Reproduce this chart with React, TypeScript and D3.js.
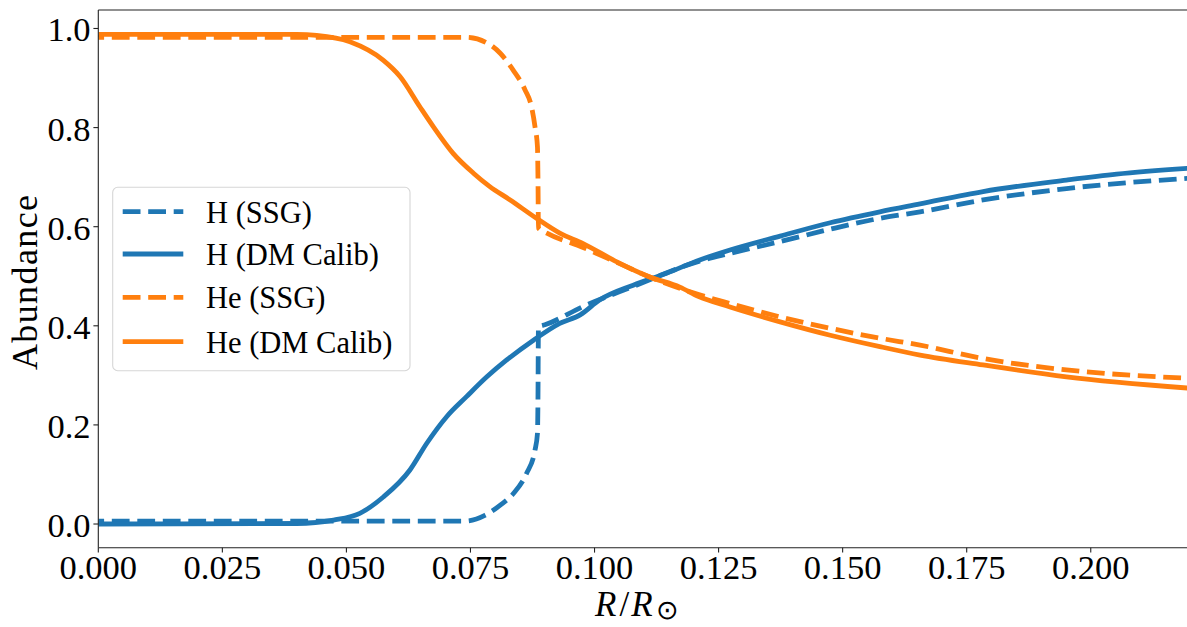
import React from "react";
import * as d3 from "d3";

// ---- data ----
const hSsgR = [0, 0.074, 0.078, 0.081, 0.0837, 0.0863, 0.088, 0.0885, 0.0886, 0.0887, 0.09, 0.0977, 0.1077, 0.121, 0.1273, 0.1374, 0.1475, 0.1575, 0.1656, 0.1783, 0.1951, 0.22];
const hSsgV = [0.006, 0.006, 0.018, 0.038, 0.062, 0.102, 0.149, 0.183, 0.25, 0.398, 0.402, 0.439, 0.479, 0.53, 0.546, 0.57, 0.595, 0.617, 0.63, 0.654, 0.677, 0.698];

const hDmR = [0, 0.04, 0.0474, 0.0527, 0.0575, 0.0628, 0.0662, 0.0702, 0.0742, 0.0783, 0.0823, 0.0877, 0.093, 0.0971, 0.101, 0.1078, 0.1145, 0.1212, 0.1273, 0.1374, 0.1475, 0.1575, 0.1656, 0.1783, 0.1951, 0.2052, 0.22];
const hDmV = [0, 0.001, 0.008, 0.0216, 0.055, 0.109, 0.163, 0.2166, 0.257, 0.297, 0.331, 0.371, 0.405, 0.422, 0.452, 0.482, 0.506, 0.533, 0.553, 0.581, 0.608, 0.63, 0.646, 0.671, 0.694, 0.706, 0.718];

const heSsgR = [0, 0.0742, 0.0783, 0.081, 0.0836, 0.086, 0.0873, 0.088, 0.0885, 0.0886, 0.0887, 0.0904, 0.0977, 0.1045, 0.111, 0.121, 0.1273, 0.1374, 0.1475, 0.1575, 0.1656, 0.1783, 0.1951, 0.22];
const heSsgV = [0.982, 0.982, 0.971, 0.95, 0.916, 0.876, 0.842, 0.802, 0.761, 0.7, 0.597, 0.587, 0.558, 0.528, 0.499, 0.463, 0.445, 0.418, 0.395, 0.375, 0.361, 0.334, 0.311, 0.294];

const heDmR = [0, 0.04, 0.044, 0.0507, 0.0574, 0.0608, 0.0648, 0.0675, 0.0715, 0.0756, 0.0789, 0.083, 0.0883, 0.093, 0.0977, 0.1045, 0.111, 0.1172, 0.121, 0.1273, 0.1374, 0.1475, 0.1575, 0.1656, 0.1783, 0.1951, 0.22];
const heDmV = [0.988, 0.988, 0.986, 0.973, 0.936, 0.903, 0.842, 0.802, 0.748, 0.708, 0.681, 0.654, 0.617, 0.587, 0.566, 0.529, 0.499, 0.478, 0.459, 0.438, 0.408, 0.381, 0.358, 0.341, 0.321, 0.297, 0.274];

const xTicks = [0, 0.025, 0.05, 0.075, 0.1, 0.125, 0.15, 0.175, 0.2];
const yTicks = [0, 0.2, 0.4, 0.6, 0.8, 1.0];

const seriesNames = ["H (SSG)", "H (DM Calib)", "He (SSG)", "He (DM Calib)"];
const seriesColors = ["#1f77b4", "#1f77b4", "#ff7f0e", "#ff7f0e"];
const seriesDashed = [true, false, true, false];
const seriesR = [hSsgR, hDmR, heSsgR, heDmR];
const seriesV = [hSsgV, hDmV, heSsgV, heDmV];

export default function App() {
  const W = 1187, H = 627;
  const left = 98.3, right = 1190, top = 10, bottom = 547.7;
  const x = d3.scaleLinear().domain([0, 0.22]).range([left, right]);
  const y = d3.scaleLinear().domain([-0.0478, 1.0373]).range([bottom, top]);
  const line = d3
    .line<[number, number]>()
    .x((d) => x(d[0]))
    .y((d) => y(d[1]))
    .curve(d3.curveMonotoneX);
  const font = "'Liberation Serif', 'Times New Roman', serif";
  const lw = 4.8;
  const dash = "17.8 7.7";

  const legX = 112.7, legY = 187.3, legW = 297.3, legH = 183.4;
  const rowY = [211.7, 254, 297.3, 341.7];

  return (
    <svg width={W} height={H} style={{ position: "absolute", left: 0, top: 0, background: "#fff" }}>
      <defs>
        <clipPath id="plotclip">
          <rect x={left} y={top} width={right - left} height={bottom - top} />
        </clipPath>
      </defs>
      <rect x={0} y={0} width={W} height={H} fill="#fff" />
      <g clipPath="url(#plotclip)">
        {seriesR.map((rs, i) => (
          <path
            key={i}
            d={line(rs.map((r, j) => [r, seriesV[i][j]] as [number, number])) || ""}
            fill="none"
            stroke={seriesColors[i]}
            strokeWidth={lw}
            strokeDasharray={seriesDashed[i] ? dash : undefined}
            strokeDashoffset={seriesDashed[i] ? 12 : undefined}
            strokeLinejoin="round"
          />
        ))}
      </g>
      {/* spines */}
      <line x1={left} x2={left} y1={top} y2={bottom} stroke="#222" strokeWidth={1.1} />
      <line x1={left} x2={right} y1={bottom} y2={bottom} stroke="#222" strokeWidth={1.1} />
      <line x1={left} x2={right} y1={top} y2={top} stroke="#222" strokeWidth={1.1} />
      <line x1={right} x2={right} y1={top} y2={bottom} stroke="#222" strokeWidth={1.1} />
      {/* x ticks */}
      {xTicks.map((t) => (
        <g key={"x" + t}>
          <line x1={x(t)} x2={x(t)} y1={bottom} y2={bottom + 4.9} stroke="#222" strokeWidth={1.1} />
          <text x={x(t)} y={579} textAnchor="middle" fontFamily={font} fontSize={34.5} fill="#000">
            {t.toFixed(3)}
          </text>
        </g>
      ))}
      {/* y ticks */}
      {yTicks.map((t) => (
        <g key={"y" + t}>
          <line x1={left - 4.9} x2={left} y1={y(t)} y2={y(t)} stroke="#222" strokeWidth={1.1} />
          <text x={90.5} y={y(t) + 13} textAnchor="end" fontFamily={font} fontSize={34.5} fill="#000">
            {t.toFixed(1)}
          </text>
        </g>
      ))}
      {/* axis labels */}
      <text
        transform={`translate(36.5, ${(top + bottom) / 2 + 3}) rotate(-90)`}
        textAnchor="middle"
        fontFamily={font}
        fontSize={36}
        letterSpacing={1.4}
        fill="#000"
      >
        Abundance
      </text>
      <text x={595} y={616} fontFamily={font} fontSize={35} fill="#000">
        <tspan fontStyle="italic">R</tspan>
        <tspan dx={3}>/</tspan>
        <tspan dx={2} fontStyle="italic">R</tspan>
        <tspan dx={3} dy={3} fontSize={27}>⊙</tspan>
      </text>
      {/* legend */}
      <rect
        x={legX}
        y={legY}
        width={legW}
        height={legH}
        rx={5}
        ry={5}
        fill="#fff"
        fillOpacity={0.8}
        stroke="#d6d6d6"
        strokeWidth={1.1}
      />
      {seriesNames.map((nm, i) => (
        <g key={nm}>
          <line
            x1={122.7}
            x2={183.3}
            y1={rowY[i]}
            y2={rowY[i]}
            stroke={seriesColors[i]}
            strokeWidth={lw}
            strokeDasharray={seriesDashed[i] ? dash : undefined}
          />
          <text x={206} y={rowY[i] + 11} fontFamily={font} fontSize={30.5} fill="#000">
            {nm}
          </text>
        </g>
      ))}
    </svg>
  );
}
